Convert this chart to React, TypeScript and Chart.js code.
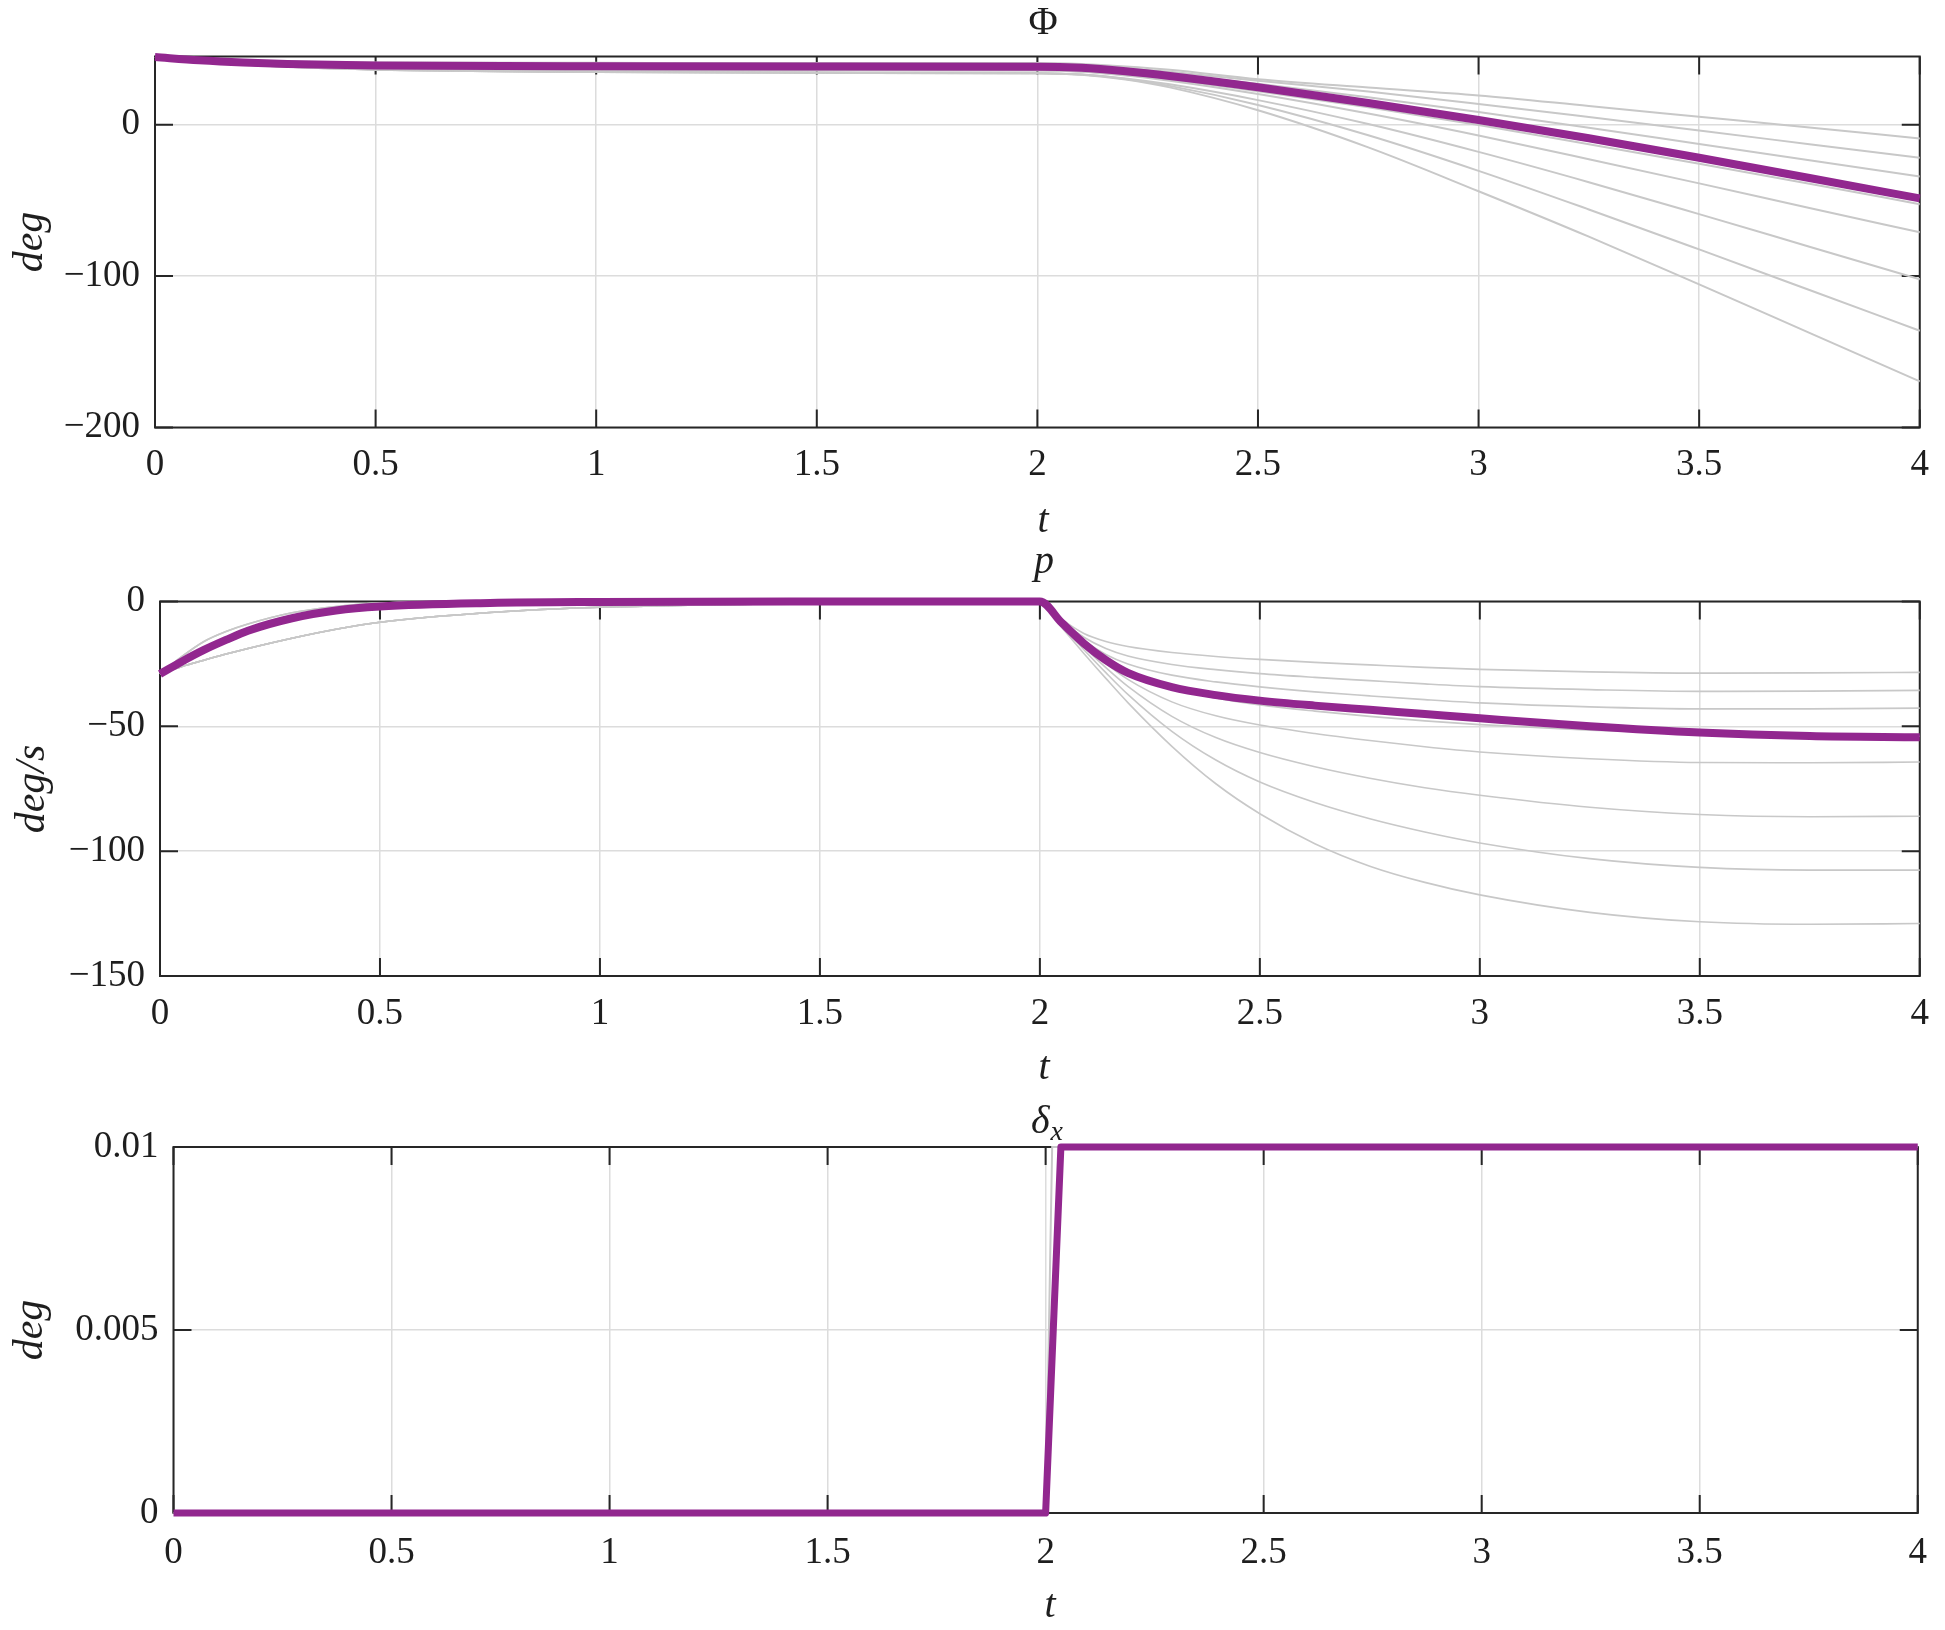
import React, { useEffect, useRef } from "react";
import { Chart, registerables } from "chart.js";

Chart.register(...registerables);

const PAGE_W = 1945;
const PURPLE = "#92278f";
const GRAY = "#c8c8c8";
const GRID = "#dcdcdc";
const INK = "#1e1e1e";
const SERIF = "'Liberation Serif', 'Times New Roman', 'DejaVu Serif', serif";

// shared time axis
const tTicks = [0, 0.5, 1, 1.5, 2, 2.5, 3, 3.5, 4];
const tTickLabels = ["0", "0.5", "1", "1.5", "2", "2.5", "3", "3.5", "4"];

// ---- Φ panel ----
const phiTime = [0, 0.1, 0.2, 0.3, 0.5, 1, 1.5, 2, 2.1, 2.2, 2.3, 2.5, 2.75, 3, 3.25, 3.5, 3.75, 4];
const phiMain = [44.6, 42.5, 41, 40, 39.1, 38.5, 38.4, 38.3, 37.5, 35.2, 32.1, 24.7, 14.3, 3.1, -9.0, -21.9, -35.2, -48.7];
const phiGray1 = [44.6, 43, 42, 41.5, 41, 40.8, 40.7, 40.7, 40.0, 38.4, 36.2, 30.0, 24.5, 19.3, 12.3, 5.2, -1.9, -9.1];
const phiGray2 = [44.6, 42.8, 41.6, 40.8, 40.2, 39.9, 39.8, 39.8, 39.1, 37.3, 34.9, 29.0, 21.9, 13.7, 5.0, -3.9, -12.9, -21.9];
const phiGray3 = [44.6, 42.5, 41.1, 40.2, 39.3, 38.8, 38.7, 38.7, 37.9, 36.0, 33.3, 27.0, 18.1, 8.3, -2.1, -12.8, -23.5, -34.2];
const phiGray4 = [44.6, 42, 40, 38.5, 37, 36.2, 36, 35.9, 35.1, 32.8, 29.7, 22.1, 11.4, -0.3, -12.9, -25.8, -39.0, -52.5];
const phiGray5 = [44.6, 42, 40, 38.5, 36.8, 36, 35.8, 35.8, 34.9, 32.5, 29.0, 20.2, 7.3, -7.2, -22.8, -38.8, -55.0, -71.1];
const phiGray6 = [44.6, 41.8, 39.7, 38.2, 36.3, 34.8, 34.2, 34.0, 33.1, 30.5, 26.6, 16.2, 0.4, -18.0, -38.0, -59.1, -80.6, -102.1];
const phiGray7 = [44.6, 41.8, 39.7, 38.2, 36.3, 34.8, 34.2, 34.0, 33.1, 30.2, 25.6, 13.0, -7.0, -30.5, -56.0, -82.4, -109.2, -136.1];
const phiGray8 = [44.6, 41.8, 39.7, 38.2, 36.3, 34.8, 34.2, 34.0, 33.0, 29.8, 24.6, 9.5, -15.0, -44.0, -74.0, -105.5, -137.5, -169.5];
const phiYTicks = [-200, -100, 0];
const phiYTickLabels = ["\u2212200", "\u2212100", "0"];

// ---- p panel ----
const pTime = [0, 0.05, 0.1, 0.15, 0.2, 0.3, 0.4, 0.5, 0.75, 1, 1.5, 2,
  2.05, 2.1, 2.15, 2.2, 2.3, 2.4, 2.5, 2.625, 2.75, 2.875, 3, 3.25, 3.5, 3.75, 4];
const pMain = [-29, -24, -19.4, -15.4, -11.7, -6.7, -3.6, -2, -0.6, -0.2, 0, 0,
  -8.6, -16.8, -23.5, -28.6, -34.3, -37.5, -39.7, -41.7, -43.4, -45.1, -46.8, -50, -52.5, -53.9, -54.4];
const pGray1 = [-29, -22, -16, -12, -9, -4.5, -2, -0.6, 0, 0, 0, 0,
  -7.2, -12.8, -16, -18, -20.4, -22, -23.2, -24.4, -25.4, -26.4, -27.2, -28.2, -28.7, -28.6, -28.4];
const pGray2 = [-29, -22, -16, -12, -9, -4.5, -2, -0.6, 0, 0, 0, 0,
  -7.8, -14.3, -18.8, -21.8, -25.2, -27.3, -28.9, -30.4, -31.7, -33, -34.1, -35.3, -36, -35.9, -35.6];
const pGray3 = [-29, -24, -19.4, -15.4, -11.7, -6.7, -3.6, -2, -0.6, -0.2, 0, 0,
  -8.2, -15.6, -21.2, -25, -29.5, -32.2, -34.2, -36.2, -37.8, -39.3, -40.6, -42.2, -43, -43, -42.7];
const pGray4 = [-29, -26, -23.5, -21, -18.8, -14.7, -11.1, -8.3, -4.4, -2.3, -0.8, -0.2,
  -8.6, -16.6, -23.2, -28.2, -34.6, -38.6, -41.4, -43.9, -46, -47.8, -49.3, -51.5, -52.9, -53.7, -54];
const pGray5 = [-29, -26, -23.5, -21, -18.8, -14.7, -11.1, -8.3, -4.4, -2.3, -0.8, -0.2,
  -8.8, -17.2, -24.8, -31.2, -40.2, -45.8, -49.5, -52.9, -55.7, -58.2, -60.3, -63, -64.5, -64.6, -64.3];
const pGray6 = [-29, -26, -23.5, -21, -18.8, -14.7, -11.1, -8.3, -4.4, -2.3, -0.8, -0.2,
  -9.3, -18.2, -26.5, -34, -46, -54.5, -60.5, -66.2, -70.8, -74.6, -77.6, -82.4, -85.3, -86.2, -86];
const pGray7 = [-29, -26, -23.5, -21, -18.8, -14.7, -11.1, -8.3, -4.4, -2.3, -0.8, -0.2,
  -9.8, -19.3, -28.5, -37.2, -52, -63.5, -72.3, -80.5, -87, -92.3, -96.7, -103, -106.5, -107.6, -107.6];
const pGray8 = [-29, -26, -23.5, -21, -18.8, -14.7, -11.1, -8.3, -4.4, -2.3, -0.8, -0.2,
  -10.5, -20.8, -30.8, -40.5, -58, -73, -85, -97, -106, -112.5, -117.5, -124.5, -128.3, -129.3, -129];
const pYTicks = [-150, -100, -50, 0];
const pYTickLabels = ["\u2212150", "\u2212100", "\u221250", "0"];

// ---- δx panel ----
const deltaTime = [0, 2, 2.035, 4];
const deltaMain = [0, 0, 0.01, 0.01];
const deltaGrayTime = [0, 2, 2.015, 4];
const deltaGray = [0, 0, 0.01, 0.01];
const deltaYTicks = [0, 0.005, 0.01];
const deltaYTickLabels = ["0", "0.005", "0.01"];

type TextItem = {
  text: string;
  x: number;
  y: number;
  size: number;
  italic?: boolean;
  rotate?: boolean;
  align?: CanvasTextAlign;
  sub?: string;
};

type Panel = {
  canvasTop: number;
  canvasHeight: number;
  area: { left: number; right: number; top: number; bottom: number };
  yMin: number;
  yMax: number;
  yTicks: number[];
  yTickLabels: string[];
  xLabelPad: number;
  main: { time: number[]; values: number[]; width: number };
  grays: { time: number[]; values: number[]; width: number }[];
  smooth: boolean;
  texts: TextItem[];
};

const zip = (t: number[], v: number[]) => t.map((x, i) => ({ x, y: v[i] }));

const panels: Panel[] = [
  {
    canvasTop: 0,
    canvasHeight: 545,
    area: { left: 155, right: 1930.5, top: 56.5, bottom: 427.5 },
    yMin: -200,
    yMax: 45,
    yTicks: phiYTicks,
    yTickLabels: phiYTickLabels,
    xLabelPad: 16,
    main: { time: phiTime, values: phiMain, width: 8 },
    grays: [phiGray1, phiGray2, phiGray3, phiGray4, phiGray5, phiGray6, phiGray7, phiGray8].map((v) => ({ time: phiTime, values: v, width: 2 })),
    smooth: true,
    texts: [
      { text: "\u03A6", x: 1043, y: 34, size: 40 },
      { text: "t", x: 1043, y: 532, size: 40, italic: true },
      { text: "deg", x: 42, y: 242, size: 42, italic: true, rotate: true },
    ],
  },
  {
    canvasTop: 545,
    canvasHeight: 550,
    area: { left: 160, right: 1925, top: 601.5, bottom: 976 },
    yMin: -150,
    yMax: 0,
    yTicks: pYTicks,
    yTickLabels: pYTickLabels,
    xLabelPad: 16,
    main: { time: pTime, values: pMain, width: 8 },
    grays: [pGray1, pGray2, pGray3, pGray4, pGray5, pGray6, pGray7, pGray8].map((v) => ({ time: pTime, values: v, width: 1.6 })),
    smooth: true,
    texts: [
      { text: "p", x: 1044, y: 572.5, size: 40, italic: true },
      { text: "t", x: 1044, y: 1079, size: 40, italic: true },
      { text: "deg/s", x: 44, y: 789, size: 42, italic: true, rotate: true },
    ],
  },
  {
    canvasTop: 1095,
    canvasHeight: 535,
    area: { left: 173.5, right: 1922.5, top: 1147, bottom: 1513 },
    yMin: 0,
    yMax: 0.01,
    yTicks: deltaYTicks,
    yTickLabels: deltaYTickLabels,
    xLabelPad: 18,
    main: { time: deltaTime, values: deltaMain, width: 7 },
    grays: [{ time: deltaGrayTime, values: deltaGray, width: 2 }],
    smooth: false,
    texts: [
      { text: "\u03B4", x: 1031, y: 1133, size: 40, italic: true, align: "left", sub: "x" },
      { text: "t", x: 1050, y: 1617, size: 40, italic: true },
      { text: "deg", x: 42, y: 1330, size: 42, italic: true, rotate: true },
    ],
  },
];

const TICK_LEN = 18;

const framePlugin = {
  id: "frame",
  beforeDatasetsDraw(chart: any, _args: any, opts: any) {
    const { ctx, chartArea: a, scales } = chart;
    const xs = scales.x;
    const ys = scales.y;
    ctx.save();
    ctx.strokeStyle = "#262626";
    ctx.lineWidth = 2;
    ctx.beginPath();
    for (const v of opts.xTicks as number[]) {
      const px = xs.getPixelForValue(v);
      ctx.moveTo(px, a.bottom);
      ctx.lineTo(px, a.bottom - TICK_LEN);
      ctx.moveTo(px, a.top);
      ctx.lineTo(px, a.top + TICK_LEN);
    }
    for (const v of opts.yTicks as number[]) {
      const py = ys.getPixelForValue(v);
      ctx.moveTo(a.left, py);
      ctx.lineTo(a.left + TICK_LEN, py);
      ctx.moveTo(a.right, py);
      ctx.lineTo(a.right - TICK_LEN, py);
    }
    ctx.stroke();
    ctx.strokeRect(a.left, a.top, a.right - a.left, a.bottom - a.top);
    ctx.restore();
  },
  afterDraw(chart: any, _args: any, opts: any) {
    const { ctx } = chart;
    const top: number = opts.canvasTop;
    ctx.save();
    ctx.fillStyle = INK;
    ctx.textBaseline = "alphabetic";
    for (const t of opts.texts as TextItem[]) {
      ctx.font = `${t.italic ? "italic " : ""}${t.size}px ${SERIF}`;
      if (t.rotate) {
        ctx.save();
        ctx.translate(t.x, t.y - top);
        ctx.rotate(-Math.PI / 2);
        ctx.textAlign = "center";
        ctx.fillText(t.text, 0, 0);
        ctx.restore();
      } else {
        ctx.textAlign = t.align || "center";
        ctx.fillText(t.text, t.x, t.y - top);
        if (t.sub) {
          const w = ctx.measureText(t.text).width;
          ctx.font = `italic ${Math.round(t.size * 0.7)}px ${SERIF}`;
          ctx.textAlign = "left";
          ctx.fillText(t.sub, t.x + w + 1, t.y - top + 7);
        }
      }
    }
    ctx.restore();
  },
};

function buildConfig(p: Panel): any {
  const datasets = [
    {
      data: zip(p.main.time, p.main.values),
      borderColor: PURPLE,
      borderWidth: p.main.width,
      pointRadius: 0,
      cubicInterpolationMode: p.smooth ? "monotone" : "default",
      tension: 0,
      clip: false,
      borderJoinStyle: "round",
    },
    ...p.grays.map((g) => ({
      data: zip(g.time, g.values),
      borderColor: GRAY,
      borderWidth: g.width,
      pointRadius: 0,
      cubicInterpolationMode: p.smooth ? "monotone" : "default",
      tension: 0,
      clip: false,
    })),
  ];
  const tickFont = { family: SERIF, size: 37 };
  const localBottom = p.area.bottom - p.canvasTop;
  return {
    type: "line",
    data: { datasets },
    plugins: [framePlugin],
    options: {
      animation: false,
      responsive: false,
      maintainAspectRatio: false,
      events: [],
      layout: {
        padding: { left: 0, right: PAGE_W - p.area.right, top: p.area.top - p.canvasTop, bottom: 0 },
      },
      plugins: {
        legend: { display: false },
        tooltip: { enabled: false },
        title: { display: false },
        frame: {
          xTicks: tTicks,
          yTicks: p.yTicks,
          texts: p.texts,
          canvasTop: p.canvasTop,
        },
      },
      scales: {
        x: {
          type: "linear",
          min: 0,
          max: 4,
          afterBuildTicks: (s: any) => {
            s.ticks = tTicks.map((v) => ({ value: v }));
          },
          afterFit: (s: any) => {
            s.height = p.canvasHeight - localBottom;
          },
          grid: { color: GRID, lineWidth: 1.5, drawTicks: false },
          border: { display: false },
          ticks: {
            autoSkip: false,
            maxRotation: 0,
            minRotation: 0,
            padding: p.xLabelPad,
            color: INK,
            font: tickFont,
            callback: (v: any) => {
              const i = tTicks.indexOf(Number(v));
              return i >= 0 ? tTickLabels[i] : "";
            },
          },
        },
        y: {
          type: "linear",
          min: p.yMin,
          max: p.yMax,
          afterBuildTicks: (s: any) => {
            s.ticks = p.yTicks.map((v) => ({ value: v }));
          },
          afterFit: (s: any) => {
            s.width = p.area.left;
          },
          grid: { color: GRID, lineWidth: 1.5, drawTicks: false },
          border: { display: false },
          ticks: {
            autoSkip: false,
            padding: 15,
            color: INK,
            font: tickFont,
            callback: (v: any) => {
              const i = p.yTicks.indexOf(Number(v));
              return i >= 0 ? p.yTickLabels[i] : "";
            },
          },
        },
      },
    },
  };
}

function PanelChart({ panel }: { panel: Panel }) {
  const ref = useRef<HTMLCanvasElement | null>(null);
  useEffect(() => {
    if (!ref.current) return;
    const chart = new Chart(ref.current, buildConfig(panel));
    return () => chart.destroy();
  }, [panel]);
  return (
    <canvas
      ref={ref}
      width={PAGE_W}
      height={panel.canvasHeight}
      style={{
        position: "absolute",
        left: 0,
        top: panel.canvasTop,
        width: PAGE_W,
        height: panel.canvasHeight,
      }}
    />
  );
}

export default function App() {
  return (
    <div
      style={{
        position: "absolute",
        left: 0,
        top: 0,
        width: PAGE_W,
        height: 1630,
        background: "#ffffff",
        overflow: "hidden",
      }}
    >
      {panels.map((p, i) => (
        <PanelChart key={i} panel={p} />
      ))}
    </div>
  );
}
